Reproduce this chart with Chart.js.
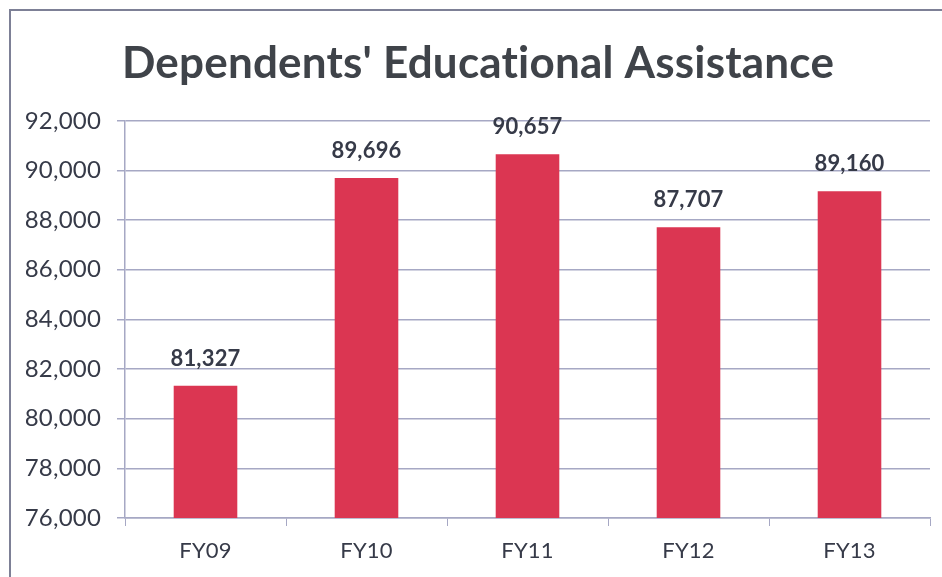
<!DOCTYPE html>
<html lang="en">
  <head>
    <meta charset="UTF-8" />
    <title>Dependents' Educational Assistance</title>
    <script src="https://cdn.jsdelivr.net/npm/chart.js"></script>
    <style>
      html, body { margin: 0; padding: 0; background: #fff; overflow: hidden; }
      .frame {
        position: absolute;
        left: 9px;
        top: 9px;
        width: 1000px;
        height: 1000px;
        border-left: 2px solid #7d8096;
        border-top: 2px solid #7d8096;
      }
      .chart-box {
        position: absolute;
        left: 0;
        top: 0;
        width: 942px;
        height: 577px;
      }
    </style>
  </head>
  <body>
    <div class="frame"></div>
    <div class="chart-box">
      <canvas id="deaChart"></canvas>
    </div>

    <script>
      const years = ["FY09", "FY10", "FY11", "FY12", "FY13"];
      const recipients = [81327, 89696, 90657, 87707, 89160];
      const yMin = 76000;
      const yMax = 92000;
      const yStep = 2000;

      const textColor = "#363a48";
      const gridColor = "#a6a8c4";
      const barColor = "#db3652";

      // tiny letter spacing keeps Lato from joining "ti" into a ligature
      const noLigatures = {
        id: "noLigatures",
        beforeDraw(chart) {
          chart.ctx.letterSpacing = "0.2px";
        },
      };

      // numbers above each bar, taken from the same dataset values
      const valueLabels = {
        id: "valueLabels",
        afterDatasetsDraw(chart) {
          const ctx = chart.ctx;
          const meta = chart.getDatasetMeta(0);
          ctx.save();
          ctx.font = "bold 22px Lato";
          ctx.fillStyle = textColor;
          ctx.textAlign = "center";
          ctx.textBaseline = "alphabetic";
          meta.data.forEach((bar, i) => {
            const v = chart.data.datasets[0].data[i];
            ctx.fillText(v.toLocaleString("en-US"), bar.x, bar.y - 20);
          });
          ctx.restore();
        },
      };

      new Chart(document.getElementById("deaChart"), {
        type: "bar",
        data: {
          labels: years,
          datasets: [
            {
              data: recipients,
              backgroundColor: barColor,
              categoryPercentage: 1,
              barPercentage: 0.395,
            },
          ],
        },
        options: {
          responsive: true,
          maintainAspectRatio: false,
          animation: false,
          layout: { padding: { left: 26, right: 12, top: 0, bottom: 0 } },
          plugins: {
            legend: { display: false },
            tooltip: { enabled: false },
            title: {
              display: true,
              text: "Dependents' Educational Assistance",
              color: "#3f4349",
              font: { family: "Lato", size: 44, weight: "bold" },
              padding: { top: 37, bottom: 31 },
            },
          },
          scales: {
            x: {
              grid: {
                display: true,
                drawOnChartArea: false,
                color: gridColor,
                tickLength: 8,
                offset: true,
              },
              border: { color: gridColor, width: 1.5 },
              ticks: {
                color: textColor,
                font: { family: "Lato", size: 22 },
                padding: 12,
              },
              afterFit: (s) => { s.height = 59; },
            },
            y: {
              min: yMin,
              max: yMax,
              grid: { color: gridColor, lineWidth: 1.5, tickLength: 8 },
              border: { color: gridColor, width: 1.5 },
              ticks: {
                stepSize: yStep,
                color: textColor,
                font: { family: "Lato", size: 24 },
                padding: 16,
                callback: (v) => v.toLocaleString("en-US"),
              },
              afterFit: (s) => { s.width = 99; },
            },
          },
        },
        plugins: [noLigatures, valueLabels],
      });
    </script>
  </body>
</html>
